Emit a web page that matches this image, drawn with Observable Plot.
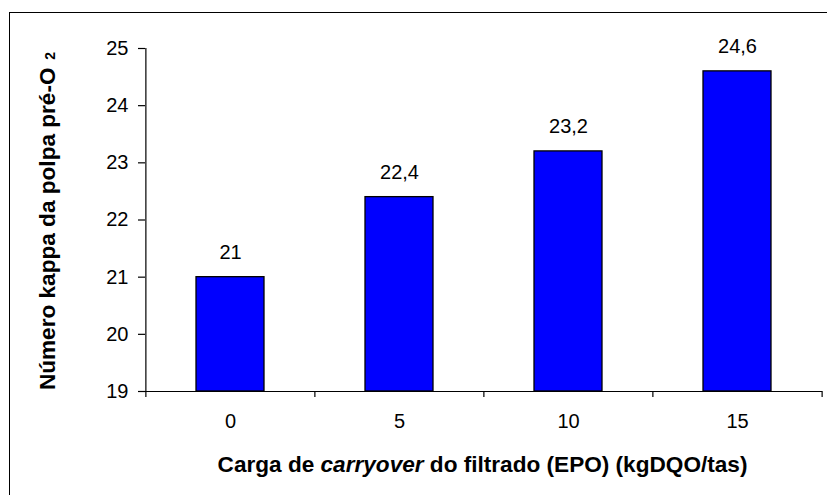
<!DOCTYPE html>
<html>
<head>
<meta charset="utf-8">
<script src="https://cdn.jsdelivr.net/npm/d3@7"></script>
<script src="https://cdn.jsdelivr.net/npm/@observablehq/plot@0.6"></script>
<style>
  html, body { margin: 0; padding: 0; background: #fff; }
  #wrap { position: relative; width: 827px; height: 495px; overflow: hidden; }
  #frame { position: absolute; left: 9px; top: 12px; width: 830px; height: 500px;
           border-top: 1.5px solid #000; border-left: 1.5px solid #000; box-sizing: border-box; }
  #chart { position: absolute; left: 0; top: 0; }
  svg { font-family: "Liberation Sans", Arial, sans-serif; }
</style>
</head>
<body>
<div id="wrap"><div id="frame"></div><div id="chart"></div></div>
<script>
const categories = ["0", "5", "10", "15"];
const values = [21, 22.4, 23.2, 24.6];
const valueLabels = ["21", "22,4", "23,2", "24,6"];
const yTicks = [19, 20, 21, 22, 23, 24, 25];
const yTitle = "Número kappa da polpa pré-O";

const data = categories.map((c, i) => ({cat: c, value: values[i], label: valueLabels[i]}));

const W = 827, H = 495;
const mLeft = 145, mRight = 5, mTop = 48, mBottom = 104;
const step = (W - mLeft - mRight) / categories.length;

const chart = Plot.plot({
  width: W,
  height: H,
  marginLeft: mLeft,
  marginRight: mRight,
  marginTop: mTop,
  marginBottom: mBottom,
  style: {fontFamily: "'Liberation Sans', Arial, sans-serif", fontSize: "20px", color: "#000", background: "transparent"},
  x: {domain: categories, paddingInner: 0.6, paddingOuter: 0.3},
  y: {domain: [19, 25]},
  marks: [
    Plot.barY(data, {x: "cat", y1: 19, y2: "value", fill: "#0000FF", stroke: "#000", strokeWidth: 1.3}),
    Plot.ruleY([19], {stroke: "#000", strokeWidth: 1.2}),
    Plot.ruleX(categories.slice(0, 1), {x: d => d, y1: 19, y2: 25, dx: -step / 2, stroke: "#000", strokeWidth: 1.2}),
    Plot.ruleX(categories, {x: d => d, y1: 19, y2: 19, dx: -step / 2, insetBottom: -6, stroke: "#000", strokeWidth: 1.2}),
    Plot.ruleX(categories.slice(-1), {x: d => d, y1: 19, y2: 19, dx: step / 2, insetBottom: -6, stroke: "#000", strokeWidth: 1.2}),
    Plot.axisY({ticks: yTicks, tickFormat: d => String(d), tickSize: 7, tickPadding: 10, label: null, fontSize: 20, stroke: "#000", strokeWidth: 1.2}),
    Plot.axisX({tickSize: 0, tickPadding: 22, label: null, fontSize: 20}),
    Plot.text(data, {x: "cat", y: "value", text: "label", dy: -25, fontSize: 20, fill: "#000"})
  ]
});

// axis titles
const svg = d3.select(chart);
svg.append("text")
  .attr("x", mLeft + (W - mLeft - mRight) / 2 - 1)
  .attr("y", 472)
  .attr("text-anchor", "middle")
  .attr("font-weight", "bold")
  .attr("font-size", 22.6)
  .attr("fill", "#000")
  .call(t => {
    t.append("tspan").text("Carga de ");
    t.append("tspan").attr("font-style", "italic").text("carryover");
    t.append("tspan").text(" do filtrado (EPO) (kgDQO/tas)");
  });
svg.append("text")
  .attr("transform", `translate(55, 221) rotate(-90)`)
  .attr("text-anchor", "middle")
  .attr("font-weight", "bold")
  .attr("font-size", 22.6)
  .attr("fill", "#000")
  .call(t => {
    t.append("tspan").text(yTitle);
    t.append("tspan").attr("font-size", 14).text(" \u00A02");
  });

document.getElementById("chart").appendChild(chart);
</script>
</body>
</html>
